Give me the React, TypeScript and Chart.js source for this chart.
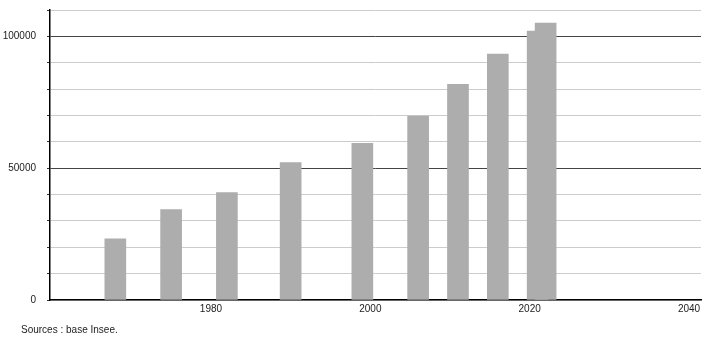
import React, { useEffect, useRef } from "react";
import { Chart, registerables } from "chart.js";

Chart.register(...registerables);

const years = [1968, 1975, 1982, 1990, 1999, 2006, 2011, 2016, 2021, 2022];
const population = [23200, 34300, 40700, 52100, 59400, 69800, 81800, 93300, 102000, 105000];
const xTickYears = [1980, 2000, 2020, 2040];
const yMajorTicks = [0, 50000, 100000];
const sourceText = "Sources : base Insee.";

export default function App() {
  const ref = useRef<HTMLCanvasElement | null>(null);

  useEffect(() => {
    if (!ref.current) return;
    const chart = new Chart(ref.current, {
      type: "bar",
      data: {
        datasets: [
          {
            data: years.map((y, i) => ({ x: y, y: population[i] })),
            backgroundColor: "#adadad",
            borderWidth: 0,
            barThickness: 21,
          },
        ],
      },
      options: {
        responsive: false,
        animation: false,
        layout: { padding: { left: 0, right: 9, top: 10, bottom: 0 } },
        plugins: { legend: { display: false }, tooltip: { enabled: false } },
        scales: {
          x: {
            type: "linear",
            offset: false,
            bounds: "data",
            min: 1959.8,
            max: 2041.5,
            afterBuildTicks: (scale: any) => {
              scale.ticks = xTickYears.map((v) => ({ value: v }));
            },
            afterFit: (scale: any) => {
              scale.height = 40;
              scale.paddingLeft = 0;
              scale.paddingRight = 0;
            },
            grid: { display: true, drawOnChartArea: false, drawTicks: false },
            border: { display: true, color: "#000", width: 1.5 },
            ticks: {
              color: "#222",
              font: { family: "Liberation Sans", size: 10 },
              padding: 3,
              maxRotation: 0,
              autoSkip: false,
              callback: (v: any) => String(v),
            },
          },
          y: {
            min: 0,
            max: 110000,
            afterFit: (scale: any) => {
              scale.width = 50;
              scale.paddingTop = 0;
              scale.paddingBottom = 0;
            },
            border: { display: true, color: "#000", width: 1.5 },
            grid: {
              color: (ctx: any) =>
                ctx.tick && ctx.tick.value !== 0 && ctx.tick.value % 50000 === 0 ? "#444" : "#cccccc",
              tickColor: "#333",
              tickLength: 3,
              lineWidth: 1,
            },
            ticks: {
              stepSize: 10000,
              color: "#222",
              font: { family: "Liberation Sans", size: 10 },
              padding: 11,
              autoSkip: false,
              callback: (v: any) => (yMajorTicks.includes(Number(v)) ? String(v) : ""),
            },
          },
        },
      },
    });
    return () => chart.destroy();
  }, []);

  return (
    <div style={{ position: "fixed", left: 0, top: 0, width: 710, height: 340, background: "#fff" }}>
      <canvas ref={ref} width={710} height={340} style={{ display: "block" }} />
      <div
        style={{
          position: "absolute",
          left: 21,
          top: 324,
          fontFamily: "Liberation Sans",
          fontSize: 10,
          color: "#222",
          whiteSpace: "nowrap",
        }}
      >
        {sourceText}
      </div>
    </div>
  );
}
